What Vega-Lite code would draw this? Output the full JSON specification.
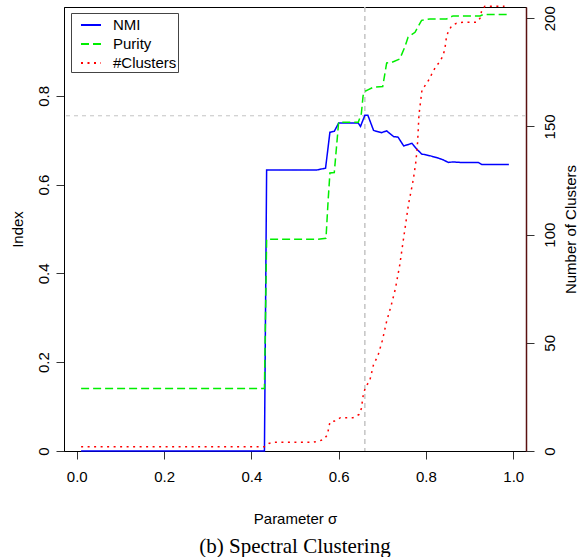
{
  "$schema": "https://vega.github.io/schema/vega-lite/v6.json",
  "width": 462,
  "height": 444,
  "autosize": {"type": "none"},
  "padding": {"left": 64, "top": 7, "right": 57, "bottom": 106},
  "background": "white",
  "config": {
    "view": {"stroke": "black", "strokeWidth": 1},
    "font": "Liberation Sans",
    "axis": {"grid": false, "labelFont": "Liberation Sans", "titleFont": "Liberation Sans", "labelFontSize": 15, "titleFontSize": 15, "titleFontWeight": "normal", "labelColor": "black", "titleColor": "black", "domainColor": "black", "tickColor": "#333333", "tickSize": 8}
  },
  "title": {"text": "(b) Spectral Clustering", "orient": "bottom", "anchor": "middle", "font": "Liberation Serif", "fontSize": 21, "fontWeight": "normal", "color": "black", "offset": 10},
  "datasets": {
    "curves": [
      {"s": 0.01, "series": "NMI", "v": 0.0},
      {"s": 0.43, "series": "NMI", "v": 0.0},
      {"s": 0.435, "series": "NMI", "v": 0.633},
      {"s": 0.55, "series": "NMI", "v": 0.633},
      {"s": 0.57, "series": "NMI", "v": 0.637},
      {"s": 0.58, "series": "NMI", "v": 0.718},
      {"s": 0.59, "series": "NMI", "v": 0.72},
      {"s": 0.6, "series": "NMI", "v": 0.7385},
      {"s": 0.645, "series": "NMI", "v": 0.7385},
      {"s": 0.65, "series": "NMI", "v": 0.731},
      {"s": 0.66, "series": "NMI", "v": 0.756},
      {"s": 0.667, "series": "NMI", "v": 0.756},
      {"s": 0.68, "series": "NMI", "v": 0.722},
      {"s": 0.698, "series": "NMI", "v": 0.717},
      {"s": 0.71, "series": "NMI", "v": 0.721},
      {"s": 0.726, "series": "NMI", "v": 0.708},
      {"s": 0.736, "series": "NMI", "v": 0.707},
      {"s": 0.749, "series": "NMI", "v": 0.687},
      {"s": 0.768, "series": "NMI", "v": 0.693},
      {"s": 0.778, "series": "NMI", "v": 0.681},
      {"s": 0.79, "series": "NMI", "v": 0.669},
      {"s": 0.809, "series": "NMI", "v": 0.665},
      {"s": 0.824, "series": "NMI", "v": 0.661},
      {"s": 0.839, "series": "NMI", "v": 0.656},
      {"s": 0.851, "series": "NMI", "v": 0.65},
      {"s": 0.862, "series": "NMI", "v": 0.651},
      {"s": 0.878, "series": "NMI", "v": 0.65},
      {"s": 0.92, "series": "NMI", "v": 0.65},
      {"s": 0.928, "series": "NMI", "v": 0.645},
      {"s": 0.99, "series": "NMI", "v": 0.645},
      {"s": 0.01, "series": "Purity", "v": 0.141},
      {"s": 0.43, "series": "Purity", "v": 0.141},
      {"s": 0.435, "series": "Purity", "v": 0.477},
      {"s": 0.553, "series": "Purity", "v": 0.477},
      {"s": 0.571, "series": "Purity", "v": 0.479},
      {"s": 0.576, "series": "Purity", "v": 0.566},
      {"s": 0.58, "series": "Purity", "v": 0.626},
      {"s": 0.59, "series": "Purity", "v": 0.627},
      {"s": 0.6, "series": "Purity", "v": 0.7407},
      {"s": 0.645, "series": "Purity", "v": 0.7407},
      {"s": 0.652, "series": "Purity", "v": 0.76},
      {"s": 0.656, "series": "Purity", "v": 0.8},
      {"s": 0.66, "series": "Purity", "v": 0.81},
      {"s": 0.667, "series": "Purity", "v": 0.8135},
      {"s": 0.68, "series": "Purity", "v": 0.8196},
      {"s": 0.701, "series": "Purity", "v": 0.821},
      {"s": 0.71, "series": "Purity", "v": 0.874},
      {"s": 0.721, "series": "Purity", "v": 0.875},
      {"s": 0.74, "series": "Purity", "v": 0.883},
      {"s": 0.752, "series": "Purity", "v": 0.911},
      {"s": 0.759, "series": "Purity", "v": 0.932},
      {"s": 0.775, "series": "Purity", "v": 0.943},
      {"s": 0.79, "series": "Purity", "v": 0.97},
      {"s": 0.809, "series": "Purity", "v": 0.973},
      {"s": 0.847, "series": "Purity", "v": 0.973},
      {"s": 0.862, "series": "Purity", "v": 0.98},
      {"s": 0.924, "series": "Purity", "v": 0.98},
      {"s": 0.931, "series": "Purity", "v": 0.983},
      {"s": 0.989, "series": "Purity", "v": 0.983},
      {"s": 0.01, "series": "#Clusters", "v": 2},
      {"s": 0.43, "series": "#Clusters", "v": 2},
      {"s": 0.44, "series": "#Clusters", "v": 3.5},
      {"s": 0.45, "series": "#Clusters", "v": 4},
      {"s": 0.54, "series": "#Clusters", "v": 4},
      {"s": 0.555, "series": "#Clusters", "v": 4.6},
      {"s": 0.566, "series": "#Clusters", "v": 5.4},
      {"s": 0.574, "series": "#Clusters", "v": 7.4},
      {"s": 0.577, "series": "#Clusters", "v": 10.3},
      {"s": 0.58, "series": "#Clusters", "v": 13.4},
      {"s": 0.594, "series": "#Clusters", "v": 14},
      {"s": 0.604, "series": "#Clusters", "v": 15.4},
      {"s": 0.633, "series": "#Clusters", "v": 15.4},
      {"s": 0.647, "series": "#Clusters", "v": 16.9},
      {"s": 0.652, "series": "#Clusters", "v": 19.6},
      {"s": 0.656, "series": "#Clusters", "v": 25.4},
      {"s": 0.66, "series": "#Clusters", "v": 28.5},
      {"s": 0.664, "series": "#Clusters", "v": 30.3},
      {"s": 0.671, "series": "#Clusters", "v": 32.3},
      {"s": 0.68, "series": "#Clusters", "v": 40},
      {"s": 0.69, "series": "#Clusters", "v": 44},
      {"s": 0.7, "series": "#Clusters", "v": 51},
      {"s": 0.71, "series": "#Clusters", "v": 60},
      {"s": 0.72, "series": "#Clusters", "v": 67},
      {"s": 0.73, "series": "#Clusters", "v": 75},
      {"s": 0.74, "series": "#Clusters", "v": 86},
      {"s": 0.75, "series": "#Clusters", "v": 100},
      {"s": 0.76, "series": "#Clusters", "v": 114},
      {"s": 0.771, "series": "#Clusters", "v": 125.4},
      {"s": 0.777, "series": "#Clusters", "v": 133.8},
      {"s": 0.781, "series": "#Clusters", "v": 143},
      {"s": 0.784, "series": "#Clusters", "v": 155.4},
      {"s": 0.788, "series": "#Clusters", "v": 162},
      {"s": 0.791, "series": "#Clusters", "v": 167},
      {"s": 0.801, "series": "#Clusters", "v": 169.7},
      {"s": 0.809, "series": "#Clusters", "v": 172.3},
      {"s": 0.815, "series": "#Clusters", "v": 175},
      {"s": 0.823, "series": "#Clusters", "v": 177.7},
      {"s": 0.832, "series": "#Clusters", "v": 180},
      {"s": 0.838, "series": "#Clusters", "v": 182.3},
      {"s": 0.843, "series": "#Clusters", "v": 185.4},
      {"s": 0.847, "series": "#Clusters", "v": 191.3},
      {"s": 0.851, "series": "#Clusters", "v": 193.8},
      {"s": 0.859, "series": "#Clusters", "v": 196.6},
      {"s": 0.87, "series": "#Clusters", "v": 197.7},
      {"s": 0.885, "series": "#Clusters", "v": 198.2},
      {"s": 0.916, "series": "#Clusters", "v": 198.2},
      {"s": 0.924, "series": "#Clusters", "v": 200},
      {"s": 0.928, "series": "#Clusters", "v": 203.8},
      {"s": 0.935, "series": "#Clusters", "v": 205.5},
      {"s": 0.98, "series": "#Clusters", "v": 205.5}
    ],
    "vref": [{"s": 0.66}],
    "href": [{"v": 0.755}]
  },
  "layer": [
    {
      "layer": [
        {
          "data": {"name": "vref"},
          "mark": {"type": "rule", "color": "#c4c4c4", "strokeWidth": 1.5, "strokeDash": [5, 4]},
          "encoding": {"x": {"field": "s", "type": "quantitative", "scale": {"domain": [-0.0292, 1.0292], "nice": false, "zero": false}}}
        },
        {
          "data": {"name": "href"},
          "mark": {"type": "rule", "color": "#c4c4c4", "strokeWidth": 1, "strokeDash": [4, 4]},
          "encoding": {"y": {"field": "v", "type": "quantitative", "scale": {"domain": [0, 1], "nice": false}}}
        },
        {
          "data": {"name": "curves"},
          "transform": [{"filter": "datum.series != '#Clusters'"}],
          "mark": {"type": "line", "strokeWidth": 1.5},
          "encoding": {
            "x": {"field": "s", "type": "quantitative", "title": "Parameter σ", "scale": {"domain": [-0.0292, 1.0292], "nice": false, "zero": false}, "axis": {"values": [0, 0.2, 0.4, 0.6, 0.8, 1.0], "format": ".1f", "labelPadding": 10, "titlePadding": 27, "labelFlush": false}},
            "y": {"field": "v", "type": "quantitative", "title": "Index", "scale": {"domain": [0, 1], "nice": false}, "axis": {"values": [0, 0.2, 0.4, 0.6, 0.8], "format": "~g", "labelAngle": -90, "labelPadding": 5, "titlePadding": 11, "labelFlush": false}},
            "color": {"field": "series", "type": "nominal", "title": null, "scale": {"domain": ["NMI", "Purity", "#Clusters"], "range": ["#0000ff", "#00ee00", "#ff0000"]}, "legend": {"orient": "none", "legendX": 7, "legendY": 6, "symbolType": "stroke", "symbolSize": 400, "symbolStrokeWidth": 2, "labelFontSize": 15, "labelFont": "Liberation Sans", "labelColor": "black", "labelOffset": 11, "padding": 1, "symbolOffset": 8, "rowPadding": -1, "strokeColor": "#444444", "fillColor": "white"}},
            "strokeDash": {"field": "series", "type": "nominal", "title": null, "scale": {"domain": ["NMI", "Purity", "#Clusters"], "range": [[1, 0], [8, 4], [2, 4.5]]}, "legend": {"orient": "none", "legendX": 7, "legendY": 6, "symbolType": "stroke", "symbolSize": 400, "symbolStrokeWidth": 2, "labelFontSize": 15, "labelFont": "Liberation Sans", "labelColor": "black", "labelOffset": 11, "padding": 1, "symbolOffset": 8, "rowPadding": -1, "strokeColor": "#444444", "fillColor": "white"}}
          }
        }
      ]
    },
    {
      "data": {"name": "curves"},
      "transform": [{"filter": "datum.series == '#Clusters'"}],
      "mark": {"type": "line", "strokeWidth": 1.5},
      "encoding": {
        "x": {"field": "s", "type": "quantitative", "scale": {"domain": [-0.0292, 1.0292], "nice": false, "zero": false}},
        "y": {"field": "v", "type": "quantitative", "title": "Number of Clusters", "scale": {"domain": [0, 205.2], "nice": false}, "axis": {"orient": "right", "values": [0, 50, 100, 150, 200], "labelAngle": -90, "labelPadding": 8, "titleAngle": 270, "titlePadding": 21, "labelFlush": false, "domainColor": "#5a1010", "domainWidth": 1.5}},
        "color": {"field": "series", "type": "nominal", "title": null, "scale": {"domain": ["NMI", "Purity", "#Clusters"], "range": ["#0000ff", "#00ee00", "#ff0000"]}},
        "strokeDash": {"field": "series", "type": "nominal", "title": null, "scale": {"domain": ["NMI", "Purity", "#Clusters"], "range": [[1, 0], [8, 4], [2, 4.5]]}}
      }
    }
  ],
  "resolve": {"scale": {"y": "independent"}}
}
